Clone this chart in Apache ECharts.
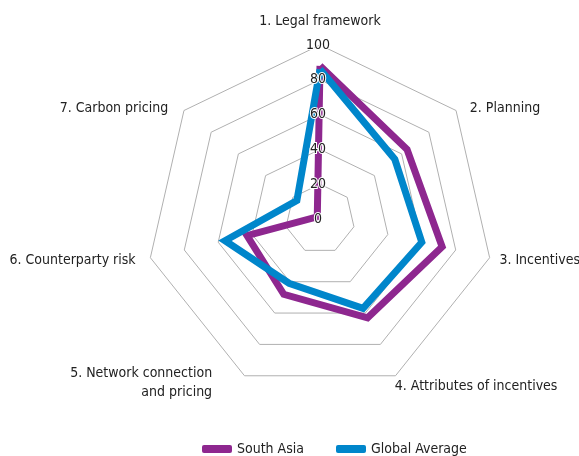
<!DOCTYPE html>
<html>
<head>
<meta charset="utf-8">
<script src="https://cdn.jsdelivr.net/npm/echarts@6/dist/echarts.min.js"></script>
<style>html,body{margin:0;padding:0;background:#fff}#c{width:579px;height:456px}</style>
</head>
<body>
<div id="c"></div>
<script>
var categories = ['1. Legal framework', '2. Planning', '3. Incentives', '4. Attributes of incentives', '5. Network connection\nand pricing', '6. Counterparty risk', '7. Carbon pricing'];
var southAsia = [88, 64, 72, 63, 48, 43, 2];
var globalAverage = [86, 55, 60, 57, 41, 56, 17];
var seriesNames = ['South Asia', 'Global Average'];
var colors = ['#8E278F', '#0086CB'];
var axisMax = 100;

// per-category label nudges (layout only), same order as categories
var namePadding = [
  [0, 0, 4, 0],
  [0, 0, 0, 11],
  [0, 0, 0, 0],
  [0, 0, 0, -6],
  [0, 29, 0, 0],
  [0, 5, 0, 0],
  [0, 13, 0, 0]
];
var nameGaps = [10, 3.6, 10, 12.2, 7.8, 10, 3.6];

// ECharts radar runs counter-clockwise; reorder so categories run clockwise
var order = [0].concat(categories.map(function (_, i) { return i; }).slice(1).reverse());
function reorder(arr) { return order.map(function (i) { return arr[i]; }); }

var FONT = "'DejaVu Sans Condensed', 'Roboto', sans-serif";
var chart = echarts.init(document.getElementById('c'));

function indicators(withLabel) {
  return order.map(function (ci, i) {
    var o = { name: categories[ci], max: axisMax, min: 0 };
    if (withLabel && i === 0) o.axisLabel = { show: true };
    if (!withLabel) { o.nameTextStyle = { padding: namePadding[ci] }; o.nameGap = nameGaps[ci]; }
    return o;
  });
}

var baseRadar = {
  center: [320, 219],
  radius: 174,
  startAngle: 90,
  splitNumber: 5,
  shape: 'polygon',
  axisLine: { show: false },
  axisTick: { show: false },
  splitArea: { show: false }
};

chart.setOption({
  animation: false,
  color: colors,
  legend: {
    top: 437,
    left: 197,
    itemWidth: 30,
    itemHeight: 8,
    itemGap: 32,
    icon: 'roundRect',
    textStyle: { fontFamily: FONT, fontSize: 14, color: '#222' },
    data: seriesNames
  },
  radar: [
    Object.assign({}, baseRadar, {
      z: 0,
      indicator: indicators(false),
      axisName: { color: '#222', fontFamily: FONT, fontSize: 14, lineHeight: 19 },
      nameGap: 10,
      axisLabel: { show: false },
      splitLine: { lineStyle: { color: '#b0b0b0', width: 1 } }
    }),
    Object.assign({}, baseRadar, {
      z: 5,
      indicator: indicators(true),
      axisName: { show: false },
      splitLine: { show: false },
      axisLabel: {
        show: false,
        margin: 2,
        align: 'center',
        verticalAlign: 'middle',
        fontFamily: FONT,
        fontSize: 14,
        color: '#222',
        textBorderColor: '#fff',
        textBorderWidth: 2
      }
    })
  ],
  series: [{
    type: 'radar',
    radarIndex: 0,
    symbol: 'none',
    data: [
      { name: seriesNames[0], value: reorder(southAsia), lineStyle: { width: 7, color: colors[0], join: 'miter' }, itemStyle: { color: colors[0] } },
      { name: seriesNames[1], value: reorder(globalAverage), lineStyle: { width: 7, color: colors[1], join: 'miter' }, itemStyle: { color: colors[1] } }
    ]
  }]
});
</script>
</body>
</html>
